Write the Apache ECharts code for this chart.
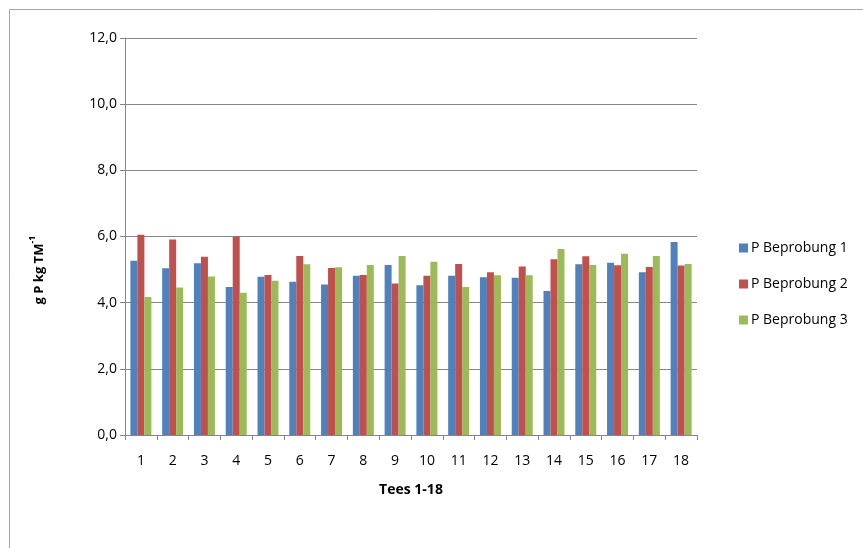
<!DOCTYPE html>
<html>
<head>
<meta charset="utf-8">
<script src="https://cdn.jsdelivr.net/npm/echarts@6/dist/echarts.min.js"></script>
<style>
  html, body { margin: 0; padding: 0; background: #fff; }
  #chart { width: 863px; height: 548px; }
</style>
</head>
<body>
<div id="chart"></div>
<script>
// Phosphorus content per tee, three sampling rounds
const tees = ['1','2','3','4','5','6','7','8','9','10','11','12','13','14','15','16','17','18'];
const beprobung1 = [5.27, 5.04, 5.19, 4.47, 4.78, 4.63, 4.55, 4.81, 5.14, 4.53, 4.81, 4.77, 4.75, 4.35, 5.16, 5.21, 4.92, 5.83];
const beprobung2 = [6.05, 5.91, 5.39, 6.00, 4.84, 5.41, 5.05, 4.84, 4.58, 4.81, 5.17, 4.92, 5.09, 5.31, 5.40, 5.13, 5.08, 5.12];
const beprobung3 = [4.17, 4.46, 4.79, 4.30, 4.66, 5.16, 5.07, 5.14, 5.41, 5.24, 4.47, 4.83, 4.83, 5.62, 5.14, 5.48, 5.41, 5.17];
const seriesNames = ['P Beprobung 1', 'P Beprobung 2', 'P Beprobung 3'];
const seriesColors = ['#4f81bd', '#c0504d', '#9bbb59'];

const FONT = '"Open Sans", "Liberation Sans", sans-serif';
const chart = echarts.init(document.getElementById('chart'));

const mkSeries = (name, data, color) => ({
  name, type: 'bar', data,
  barGap: '0%', barCategoryGap: '34%',
  itemStyle: { color },
  emphasis: { disabled: true }
});

chart.setOption({
  animation: false,
  textStyle: { fontFamily: FONT },
  graphic: [
    {
      // outer chart frame
      type: 'rect', silent: true,
      shape: { x: 9.5, y: 9.5, width: 900, height: 600 },
      style: { fill: 'none', stroke: '#a6a6a6', lineWidth: 1 }
    },
    {
      // y axis title with superscript unit exponent
      type: 'text', silent: true,
      x: 37, y: 270, rotation: Math.PI / 2,
      style: {
        text: '{b|g P kg TM}{s|-1}',
        align: 'center', verticalAlign: 'middle',
        rich: {
          b: { fontFamily: FONT, fontSize: 13, fontWeight: 'bold', fill: '#000', lineHeight: 18, verticalAlign: 'bottom' },
          s: { fontFamily: FONT, fontSize: 9, fontWeight: 'bold', fill: '#000', lineHeight: 18, verticalAlign: 'top', padding: [0, 0, 7, 0] }
        }
      }
    }
  ],
  grid: { left: 125, right: 166, top: 38, bottom: 113 },
  legend: {
    orient: 'vertical', left: 734, top: 236,
    itemWidth: 9, itemHeight: 9, itemGap: 22,
    icon: 'rect',
    textStyle: { fontFamily: FONT, fontSize: 14, color: '#000', padding: [0, 0, 0, -2] },
    data: seriesNames
  },
  xAxis: {
    type: 'category', data: tees,
    name: 'Tees 1-18', nameLocation: 'middle', nameGap: 48,
    nameTextStyle: { fontFamily: FONT, fontSize: 14, fontWeight: 'bold', color: '#000' },
    axisLine: { lineStyle: { color: '#868686' } },
    axisTick: { show: true, length: 5, lineStyle: { color: '#868686' } },
    axisLabel: { fontFamily: FONT, fontSize: 14, color: '#000', margin: 19 }
  },
  yAxis: {
    type: 'value', min: 0, max: 12, interval: 2,
    axisLine: { show: true, lineStyle: { color: '#868686' } },
    axisTick: { show: true, length: 5, lineStyle: { color: '#868686' } },
    splitLine: { lineStyle: { color: '#868686' } },
    axisLabel: {
      fontFamily: FONT, fontSize: 14, color: '#000', margin: 8,
      formatter: v => v.toFixed(1).replace('.', ',')
    }
  },
  series: [
    mkSeries(seriesNames[0], beprobung1, seriesColors[0]),
    mkSeries(seriesNames[1], beprobung2, seriesColors[1]),
    mkSeries(seriesNames[2], beprobung3, seriesColors[2])
  ]
});
</script>
</body>
</html>
